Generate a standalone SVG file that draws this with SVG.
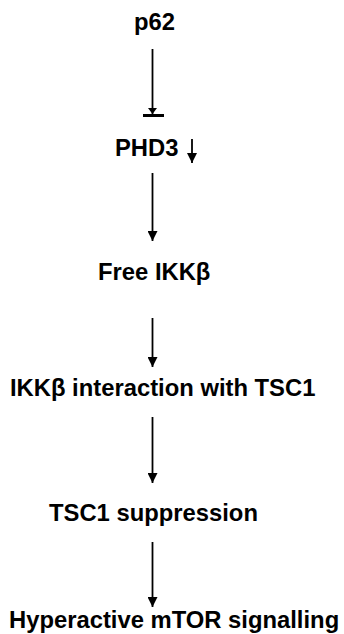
<svg xmlns="http://www.w3.org/2000/svg" width="344" height="634" viewBox="0 0 344 634">
<style>
.t{font-family:"Liberation Sans",Arial,sans-serif;font-weight:bold;font-size:23.8px;fill:#000}
.c{stroke:#000;stroke-width:1.8;fill:none}
</style>
<defs>
<marker id="ah" viewBox="0 0 10 10" refX="10" refY="5" markerWidth="10" markerHeight="10" markerUnits="userSpaceOnUse" orient="auto">
<path d="M0,0 L10,5 L0,10 Z" fill="#000"/>
</marker>
</defs>
<rect width="344" height="634" fill="#fff"/>
<g id="n-p62"><text class="t" x="134" y="30">p62</text></g>
<g id="n-phd3"><text class="t" x="115" y="156">PHD3</text>
<line class="c" x1="192" y1="139" x2="192" y2="163" marker-end="url(#ah)"/></g>
<g id="n-free"><text class="t" x="98" y="280">Free IKKβ</text></g>
<g id="n-inter"><text class="t" x="10" y="396">IKKβ interaction with TSC1</text></g>
<g id="n-tsc1"><text class="t" x="49" y="521">TSC1 suppression</text></g>
<g id="n-mtor"><text class="t" x="9" y="628">Hyperactive mTOR signalling</text></g>
<g id="connectors">
<line class="c" x1="152.5" y1="49" x2="152.5" y2="115"/>
<path d="M148,108 L157,108 L152.5,114 Z" fill="#000"/>
<line x1="143" y1="115.5" x2="164" y2="115.5" stroke="#000" stroke-width="3"/>
<line class="c" x1="152.5" y1="173" x2="152.5" y2="241" marker-end="url(#ah)"/>
<line class="c" x1="152.5" y1="318" x2="152.5" y2="367" marker-end="url(#ah)"/>
<line class="c" x1="152.5" y1="417" x2="152.5" y2="483" marker-end="url(#ah)"/>
<line class="c" x1="152.5" y1="542" x2="152.5" y2="607" marker-end="url(#ah)"/>
</g>
</svg>
